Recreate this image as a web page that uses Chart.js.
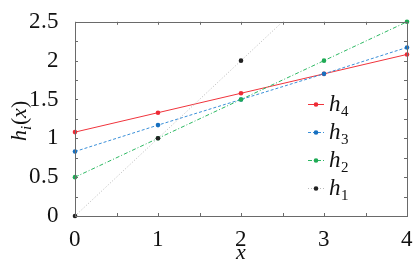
<!DOCTYPE html>
<html>
<head>
<meta charset="utf-8">
<script src="https://cdn.jsdelivr.net/npm/chart.js@4/dist/chart.umd.min.js"></script>
<style>
  @font-face { font-family: 'PlotSerif'; font-style: normal; src: local('Liberation Serif'), local('LiberationSerif'); }
  @font-face { font-family: 'PlotSerif'; font-style: italic; src: local('Liberation Serif Italic'), local('LiberationSerif-Italic'); }
  body { margin: 0; }
</style>
</head>
<body>
<canvas id="hChart" width="415" height="264"></canvas>
<script>
// values
const xValues = [0, 1, 2, 3, 4];
const h1 = [0, 1, 2, 3, 4];
const h2 = [0.5, 1.0, 1.5, 2.0, 2.5];
const h3 = [0.83, 1.17, 1.5, 1.83, 2.17];
const h4 = [1.08, 1.33, 1.58, 1.83, 2.08];
const xTickLabels = [0, 1, 2, 3, 4];
const yTickLabels = [0, 0.5, 1, 1.5, 2, 2.5];

const FAMILY = "PlotSerif, 'Liberation Serif', serif";

const toPoints = ys => xValues.map((x, i) => ({ x: x, y: ys[i] }));

const series = [
    { name: '1', data: h1, line: '#b8b8b8', point: '#222222', dash: [1, 2], clip: { left: 4, bottom: 4, top: 0, right: 0 } },
    { name: '2', data: h2, line: '#2cb862', point: '#1faa55', dash: [4, 2, 1, 2], clip: 4 },
    { name: '3', data: h3, line: '#3a8fd8', point: '#1770c0', dash: [3, 2], clip: 4 },
    { name: '4', data: h4, line: '#f0343c', point: '#ee2a35', dash: [], clip: 4 }
];

// frame, inward ticks, axis titles and legend
const decorations = {
    id: 'decorations',
    afterDraw(chart) {
        const ctx = chart.ctx;
        const area = chart.chartArea;
        const xs = chart.scales.x;
        const ys = chart.scales.y;
        ctx.save();

        ctx.strokeStyle = '#6a6a6a';
        ctx.lineWidth = 1;
        ctx.strokeRect(Math.round(area.left) + 0.5, Math.round(area.top) + 0.5,
            Math.round(area.right - area.left), Math.round(area.bottom - area.top));

        ctx.beginPath();
        for (let v = 0; v <= 4.001; v += 0.5) {
            const px = Math.round(xs.getPixelForValue(v)) + 0.5;
            ctx.moveTo(px, area.bottom); ctx.lineTo(px, area.bottom - 3);
            ctx.moveTo(px, area.top); ctx.lineTo(px, area.top + 3);
        }
        for (let v = 0; v <= 2.501; v += 0.25) {
            const py = Math.round(ys.getPixelForValue(v)) + 0.5;
            ctx.moveTo(area.left, py); ctx.lineTo(area.left + 3, py);
            ctx.moveTo(area.right, py); ctx.lineTo(area.right - 3, py);
        }
        ctx.stroke();

        // x title
        ctx.fillStyle = '#111';
        ctx.font = 'italic 22px ' + FAMILY;
        ctx.textAlign = 'center';
        ctx.textBaseline = 'alphabetic';
        ctx.fillText('x', (area.left + area.right) / 2, 259);

        // y title h_i(x)
        ctx.save();
        ctx.translate(26, 116);
        ctx.rotate(-Math.PI / 2);
        ctx.textAlign = 'left';
        let cx = -25;
        ctx.font = 'italic 22px ' + FAMILY;
        ctx.fillText('h', cx, 0); cx += ctx.measureText('h').width;
        ctx.font = 'italic 15px ' + FAMILY;
        ctx.fillText('i', cx, 5); cx += ctx.measureText('i').width + 1;
        ctx.font = '22px ' + FAMILY;
        ctx.fillText('(', cx, 0); cx += ctx.measureText('(').width;
        ctx.font = 'italic 22px ' + FAMILY;
        ctx.fillText('x', cx, 0); cx += ctx.measureText('x').width;
        ctx.font = '22px ' + FAMILY;
        ctx.fillText(')', cx, 0);
        ctx.restore();

        // legend, top entry is the last dataset
        const legendX = 308;
        let legendY = 104;
        for (let i = chart.data.datasets.length - 1; i >= 0; i--) {
            const ds = chart.data.datasets[i];
            ctx.strokeStyle = ds.borderColor;
            ctx.setLineDash(ds.borderDash);
            ctx.beginPath();
            ctx.moveTo(legendX, legendY + 0.5);
            ctx.lineTo(legendX + 16, legendY + 0.5);
            ctx.stroke();
            ctx.setLineDash([]);
            ctx.fillStyle = ds.pointBackgroundColor;
            ctx.beginPath();
            ctx.arc(legendX + 8, legendY + 0.5, 2.3, 0, Math.PI * 2);
            ctx.fill();
            ctx.fillStyle = '#111';
            ctx.textAlign = 'left';
            ctx.textBaseline = 'alphabetic';
            ctx.font = 'italic 23px ' + FAMILY;
            ctx.fillText('h', legendX + 21, legendY + 7);
            const w = ctx.measureText('h').width;
            ctx.font = '15px ' + FAMILY;
            ctx.fillText(series[i].name, legendX + 21 + w, legendY + 12);
            legendY += 28;
        }
        ctx.restore();
    }
};

function drawChart() {
    Chart.defaults.font.family = FAMILY;
    new Chart(document.getElementById('hChart').getContext('2d'), {
        type: 'line',
        data: {
            datasets: series.map(s => ({
                label: 'h' + s.name,
                data: toPoints(s.data),
                borderColor: s.line,
                borderWidth: 1,
                borderDash: s.dash,
                pointBackgroundColor: s.point,
                pointBorderColor: s.point,
                pointRadius: 2.3,
                pointBorderWidth: 0,
                tension: 0,
                fill: false,
                clip: s.clip
            }))
        },
        options: {
            responsive: false,
            animation: false,
            layout: { padding: { top: 12, right: 7, left: 0, bottom: 0 } },
            plugins: {
                legend: { display: false },
                tooltip: { enabled: false }
            },
            scales: {
                x: {
                    type: 'linear',
                    min: 0,
                    max: 4,
                    afterFit: scale => { scale.height = 48; },
                    afterBuildTicks: scale => { scale.ticks = xTickLabels.map(v => ({ value: v })); },
                    grid: { display: false },
                    border: { display: false },
                    ticks: {
                        color: '#111',
                        padding: 2,
                        font: { family: FAMILY, size: 23 }
                    }
                },
                y: {
                    min: 0,
                    max: 2.5,
                    afterFit: scale => { scale.width = 75; },
                    afterBuildTicks: scale => { scale.ticks = yTickLabels.map(v => ({ value: v })); },
                    grid: { display: false },
                    border: { display: false },
                    ticks: {
                        color: '#111',
                        padding: 8,
                        font: { family: FAMILY, size: 23 },
                        callback: v => String(v)
                    }
                }
            }
        },
        plugins: [decorations]
    });
}

Promise.all([
    document.fonts.load('23px PlotSerif'),
    document.fonts.load('italic 23px PlotSerif')
]).then(() => setTimeout(drawChart, 50), () => setTimeout(drawChart, 50));
</script>
</body>
</html>
